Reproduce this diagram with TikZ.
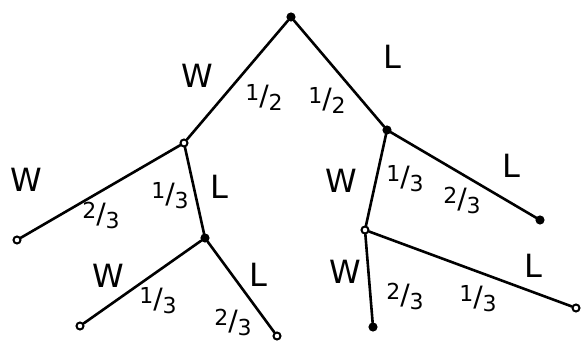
\documentclass[tikz,border=0pt]{standalone}
\usepackage{fontspec}
\setmainfont{DejaVu Sans}
\begin{document}
\begin{tikzpicture}[x=1pt,y=-1pt,
  vtx/.style={circle,draw,line width=2pt,inner sep=0pt,minimum size=7pt},
  edge/.style={line width=2.6pt,line cap=round},
  let/.style={font=\fontsize{32}{34}\selectfont},
  frac/.style={font=\fontsize{22}{24}\selectfont,inner sep=0pt}]
\newcommand{\hfrac}[2]{\raisebox{5pt}{#1}{\fontsize{28}{30}\selectfont/}\raisebox{-5pt}{#2}}
\useasboundingbox (0,0) rectangle (581,347);
% vertices
\node[vtx,fill] (r) at (291,17) {};
\node[vtx] (a) at (184,143) {};
\node[vtx,fill] (b) at (387,130) {};
\node[vtx] (aa) at (17,240) {};
\node[vtx,fill] (ab) at (205,238) {};
\node[vtx] (aba) at (80,326) {};
\node[vtx] (abb) at (277,336) {};
\node[vtx,fill] (bb) at (540,220) {};
\node[vtx] (ba) at (365,230) {};
\node[vtx,fill] (baa) at (373,327) {};
\node[vtx] (bab) at (576,308) {};
% edges
\draw[edge] (r) -- (a);
\draw[edge] (r) -- (b);
\draw[edge] (a) -- (aa);
\draw[edge] (a) -- (ab);
\draw[edge] (ab) -- (aba);
\draw[edge] (ab) -- (abb);
\draw[edge] (b) -- (bb);
\draw[edge] (b) -- (ba);
\draw[edge] (ba) -- (baa);
\draw[edge] (ba) -- (bab);
% labels
\node[let] (l1) at (197,76) {W};
\node[frac] (f1) at (264,97) {\hfrac{1}{2}};
\node[frac] (f2) at (327,100) {\hfrac{1}{2}};
\node[let] (l2) at (392,57) {L};
\node[let] (l3) at (26,180) {W};
\node[frac] (f3) at (101,215) {\hfrac{2}{3}};
\node[frac] (f4) at (170,196) {\hfrac{1}{3}};
\node[let] (l4) at (219,187) {L};
\node[let] (l5) at (341,181) {W};
\node[frac] (f5) at (405,179) {\hfrac{1}{3}};
\node[frac] (f6) at (462,200) {\hfrac{2}{3}};
\node[let] (l6) at (511,166) {L};
\node[let] (l7) at (108,276) {W};
\node[frac] (f7) at (158,301) {\hfrac{1}{3}};
\node[frac] (f8) at (233,322) {\hfrac{2}{3}};
\node[let] (l8) at (258,275) {L};
\node[let] (l9) at (345,272) {W};
\node[frac] (f9) at (405,296) {\hfrac{2}{3}};
\node[frac] (f10) at (478,299) {\hfrac{1}{3}};
\node[let] (l10) at (533,266) {L};
\end{tikzpicture}
\end{document}
